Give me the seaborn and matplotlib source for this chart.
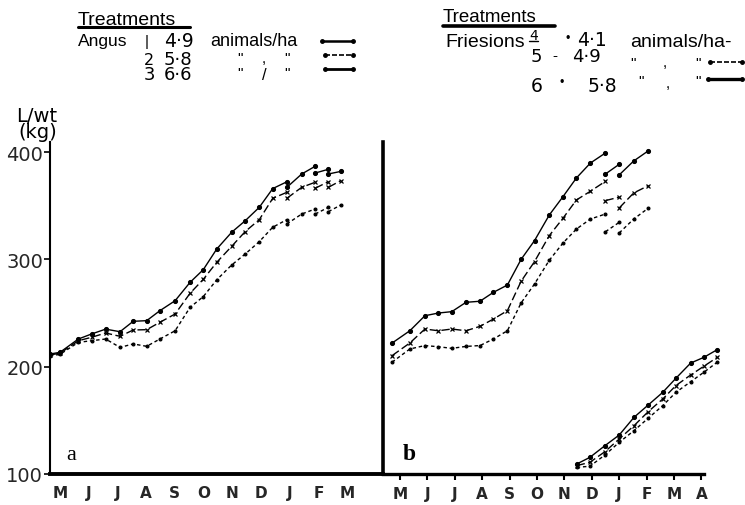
import matplotlib
matplotlib.use("Agg")
import matplotlib.pyplot as plt
from matplotlib.lines import Line2D
import pandas as pd
import seaborn as sns

# ---------------- data (months from May = 0, live weight kg) ----------------
left_x = [-0.35, 0.0, 0.64, 1.10, 1.59, 2.09, 2.55, 3.02, 3.48, 4.01, 4.53, 4.99,
          5.46, 5.98, 6.45, 6.94, 7.41, 7.90, 7.90, 8.42, 8.89, 8.89, 9.35, 9.35, 9.78]
left_seg = [0, 0, 0, 0, 0, 0, 0, 0, 0, 0, 0, 0, 0, 0, 0, 0, 0, 0,
            1, 1, 1, 2, 2, 3, 3]
angus_49 = [211.8, 213.4, 225.8, 230.5, 235.0, 232.6, 242.3, 242.9, 252.2, 261.5, 278.6, 290.4,
            309.7, 325.3, 336.0, 348.5, 366.0, 372.3, 367.1, 379.6, 386.8, 380.5, 384.0, 379.6, 382.0]
angus_58 = [211.0, 212.5, 224.2, 227.4, 231.4, 228.3, 234.2, 234.5, 241.4, 249.1, 268.4, 281.4,
            297.3, 312.2, 325.9, 337.0, 356.9, 362.5, 356.9, 367.2, 371.9, 366.3, 372.5, 367.2, 373.4]
angus_66 = [210.0, 211.5, 222.7, 224.2, 225.8, 218.0, 221.2, 219.0, 225.8, 233.5, 255.3, 265.3,
            281.0, 294.8, 305.0, 316.5, 330.0, 337.0, 333.0, 342.3, 347.0, 342.3, 348.5, 344.5, 350.7]

right_x = [-0.29, 0.36, 0.91, 1.40, 1.89, 2.41, 2.92, 3.41, 3.92, 4.42, 4.91, 5.45, 5.95,
           6.44, 6.95, 7.50, 7.50, 8.00, 8.00, 8.53, 9.07]
right_seg = [0, 0, 0, 0, 0, 0, 0, 0, 0, 0, 0, 0, 0, 0, 0, 0, 1, 1, 2, 2, 2]
fries_41 = [222.0, 233.5, 247.5, 250.0, 251.3, 260.0, 261.0, 269.3, 276.1, 300.0, 317.5, 341.4,
            358.5, 375.9, 389.8, 399.2, 379.6, 388.6, 378.7, 391.7, 401.3]
fries_49 = [210.3, 222.1, 235.1, 233.5, 235.1, 233.5, 237.6, 244.4, 252.2, 279.6, 297.9, 322.2,
            338.4, 355.4, 363.5, 372.8, 354.8, 358.0, 347.9, 361.9, 368.8]
fries_58 = [204.2, 216.5, 219.7, 218.6, 217.1, 218.9, 219.7, 225.8, 233.5, 259.4, 277.1, 299.2,
            315.3, 328.3, 337.6, 342.3, 325.8, 334.5, 324.6, 337.6, 347.9]

calf_x = [6.45, 6.93, 7.48, 8.00, 8.54, 9.06, 9.59, 10.07, 10.61, 11.09, 11.58]
calf_seg = [3, 3, 3, 3, 3, 3, 3, 3, 3, 3, 3]
calf_41 = [109.3, 115.5, 126.4, 136.3, 152.8, 164.3, 176.1, 189.2, 203.4, 208.7, 215.9]
calf_49 = [107.8, 110.9, 120.8, 132.6, 145.0, 158.1, 169.9, 182.4, 192.3, 200.4, 208.7]
calf_58 = [106.2, 107.2, 117.7, 129.5, 140.4, 152.0, 163.7, 176.1, 186.0, 194.8, 204.2]

months_left = ["M", "J", "J", "A", "S", "O", "N", "D", "J", "F", "M"]
months_right = ["M", "J", "J", "A", "S", "O", "N", "D", "J", "F", "M", "A"]
y_ticks = [100, 200, 300, 400]

left_df = pd.DataFrame({"month": left_x, "seg": left_seg,
                        "t1": angus_49, "t2": angus_58, "t3": angus_66})
right_df = pd.DataFrame({"month": right_x + calf_x, "seg": right_seg + calf_seg,
                         "t1": fries_41 + calf_41, "t2": fries_49 + calf_49,
                         "t3": fries_58 + calf_58})

# ---------------- figure ----------------
sns.set_theme(style="white")
plt.rcParams["font.family"] = ["DejaVu Sans"]

W, H = 745, 506
fig = plt.figure(figsize=(W / 100, H / 100), dpi=100)


def fx(px):
    return px / W


def fy(py):
    return 1 - py / H


ax_bot, ax_top = 475, 143
axL = fig.add_axes([fx(50), fy(ax_bot), (383 - 50) / W, (ax_bot - ax_top) / H])
axR = fig.add_axes([fx(383), fy(ax_bot), (740 - 383) / W, (ax_bot - ax_top) / H])

styles = {
    "t1": dict(linestyle="-", marker="o", markersize=2.8, lw=1.0),
    "t2": dict(linestyle=(0, (6, 2.5)), marker="x", markersize=3.2, lw=1.0),
    "t3": dict(linestyle=(0, (2.5, 2)), marker="o", markersize=2.0, lw=1.0),
}

for ax, df in ((axL, left_df), (axR, right_df)):
    for key, st in styles.items():
        sns.lineplot(data=df, x="month", y=key, units="seg", estimator=None, ax=ax,
                     color="black", mec="black", mfc="black", mew=0.9,
                     legend=False, **st)
    ax.set_xlabel("")
    ax.set_ylabel("")
    ax.set_ylim(100, 409.4)
    for s in ("top", "right"):
        ax.spines[s].set_visible(False)
    ax.set_facecolor("none")

# left panel axes
axL.set_xlim(-0.348, 11.25)
axL.set_xticks(range(len(months_left)))
axL.set_xticklabels(months_left, fontsize=11, fontweight="bold")
axL.tick_params(axis="x", length=0, pad=8)
axL.set_yticks(y_ticks)
axL.set_yticklabels([str(v) for v in y_ticks], fontsize=14)
axL.tick_params(axis="y", length=4, width=1.2, pad=1, color="black", left=True)
axL.spines["left"].set_linewidth(1.5)
axL.spines["bottom"].set_linewidth(2.8)
for s in ("left", "bottom"):
    axL.spines[s].set_color("black")

# right panel axes
axR.set_xlim(-0.62, 12.41)
axR.set_xticks(range(len(months_right)))
axR.set_xticklabels(months_right, fontsize=11, fontweight="bold")
axR.tick_params(axis="x", length=4, width=1.5, pad=5, direction="out",
                color="black", bottom=True)
axR.set_yticks([])
axR.spines["left"].set_linewidth(2.6)
axR.spines["bottom"].set_linewidth(2.4)
axR.spines["bottom"].set_bounds(-0.62, 11.1)
for s in ("left", "bottom"):
    axR.spines[s].set_color("black")

# ---------------- annotations ----------------
sans = "Liberation Sans"


def t(px, py, s, size, family=sans, **kw):
    fig.text(fx(px), fy(py), s, fontsize=size, family=family, va="baseline",
             ha="left", color="black", **kw)


def hline(x0, x1, y, lw, ls="-", marker=None, ms=0):
    fig.add_artist(Line2D([fx(x0), fx(x1)], [fy(y), fy(y)], transform=fig.transFigure,
                          color="black", lw=lw, linestyle=ls, marker=marker, markersize=ms))


# y label
t(16, 122, "L/wt", 14, family="DejaVu Sans")
t(18, 138, "(kg)", 14, family="DejaVu Sans")

# panel letters
t(66, 460, "a", 16, family="Liberation Serif")
t(403, 460, "b", 17, family="Liberation Serif", fontweight="bold")

# left legend
t(78, 25, "Treatments", 14)
hline(78, 190, 28, 2.2)
t(78, 46, "Angus", 12.5)
t(145, 46, "|", 11)
t(164, 47, "4·9", 13.5, family="DejaVu Sans")
t(210, 46, "animals/ha", 13)
hline(322, 353, 42, 1.8, marker="o", ms=2.5)
t(144, 65, "2", 11.5, family="DejaVu Sans")
t(164, 65, "5·8", 13, family="DejaVu Sans")
t(237, 63, '"', 11)
t(262, 63, ",", 11)
t(284, 63, '"', 11)
hline(325, 353, 56, 1.2, ls=(0, (3, 1.2)), marker="o", ms=2.5)
t(144, 80, "3", 13, family="DejaVu Sans")
t(164, 80, "6·6", 13, family="DejaVu Sans")
t(237, 78, '"', 11)
t(262, 80, "/", 12)
t(284, 78, '"', 11)
hline(325, 353, 70, 2.0, marker="o", ms=2.5)

# right legend
t(443, 22, "Treatments", 13.5)
hline(443, 555, 27, 2.6)
t(445, 47, "Friesions", 14)
t(529, 40, "4", 10, family="DejaVu Sans")
hline(529, 538, 42, 1.0)
t(565, 42, "•", 9)
t(577, 46, "4·1", 13.5, family="DejaVu Sans")
t(630, 47, "animals/ha-", 14)
t(531, 62, "5", 13, family="DejaVu Sans")
t(552, 60, "-", 11)
t(572, 62, "4·9", 13, family="DejaVu Sans")
t(630, 68, '"', 11)
t(663, 67, ",", 11)
t(695, 68, '"', 11)
hline(710, 742, 63, 1.2, ls=(0, (3, 1.2)), marker="o", ms=2.5)
t(531, 92, "6", 13.5, family="DejaVu Sans")
t(559, 86, "•", 9)
t(588, 92, "5·8", 13.5, family="DejaVu Sans")
t(638, 86, '"', 11)
t(666, 88, ",", 11)
t(695, 86, '"', 11)
hline(708, 742, 80, 2.4, marker="o", ms=2.5)

fig.savefig("out.png", dpi=100)
